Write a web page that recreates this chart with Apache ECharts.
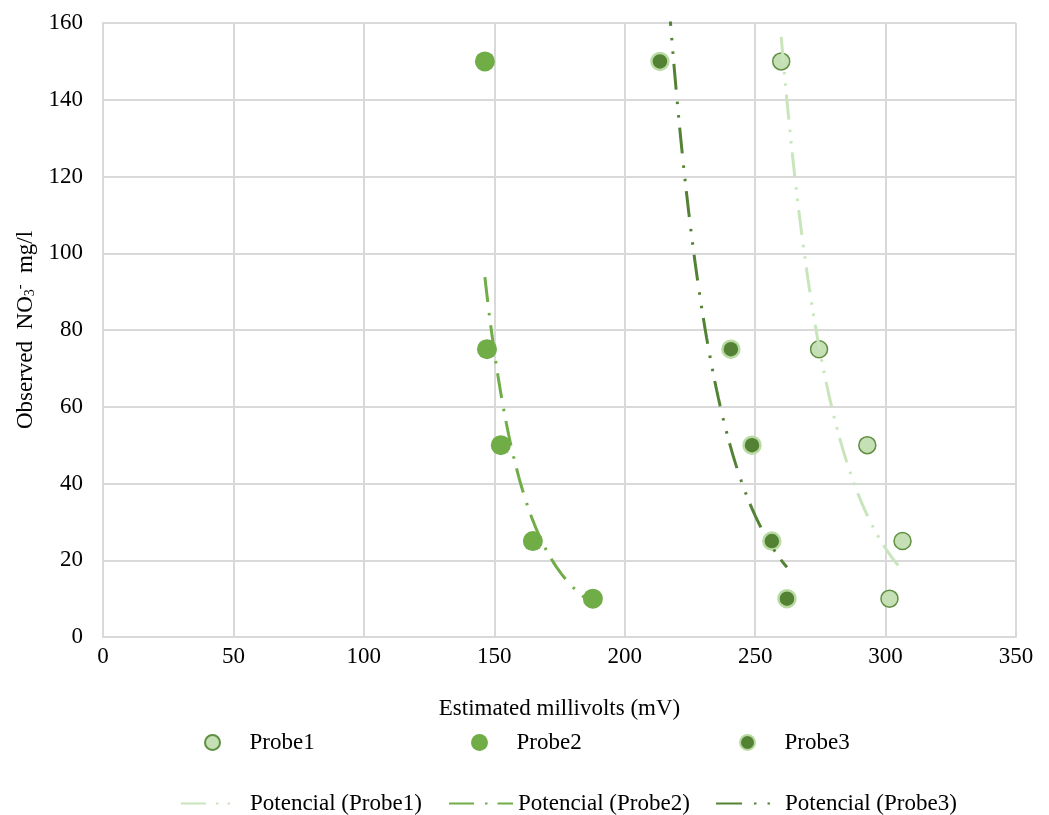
<!DOCTYPE html>
<html><head><meta charset="utf-8">
<script src="https://cdn.jsdelivr.net/npm/echarts@6/dist/echarts.min.js"></script>
<style>html,body{margin:0;padding:0;background:#fff}#c{width:1049px;height:815px}</style>
</head><body><div id="c"></div>
<script>
// Observed NO3- concentration levels (mg/l)
const observed = [150, 75, 50, 25, 10];
// Estimated millivolts per probe
const probe1mV = [260, 274.5, 293, 306.5, 301.5];
const probe2mV = [146.4, 147.2, 152.5, 164.8, 187.8];
const probe3mV = [213.5, 240.7, 248.8, 256.4, 262.2];
const seriesNames = ['Probe1', 'Probe2', 'Probe3'];
const trendNames = ['Potencial (Probe1)', 'Potencial (Probe2)', 'Potencial (Probe3)'];
const xTicks = [0, 350, 50];
const yTicks = [0, 160, 20];

const FONT = '"Liberation Serif", "Times New Roman", serif';
const FS = 23;
const fillColors = ['#c5e0b4', '#70ad47', '#548235'];
const borderColors = ['#5f8f40', '#70ad47', '#b9dba3'];
const lineColors = ['#c9e5bb', '#70ad47', '#548235'];

function pairs(xs) { return xs.map((x, i) => [x, observed[i]]); }

// Power trendline (Excel "Potencial"): least squares on ln(y) vs ln(x)
function powerTrend(xs) {
  const lx = xs.map(Math.log), ly = observed.map(Math.log);
  const n = xs.length;
  const mx = lx.reduce((a, b) => a + b) / n, my = ly.reduce((a, b) => a + b) / n;
  let sxy = 0, sxx = 0;
  for (let i = 0; i < n; i++) { sxy += (lx[i] - mx) * (ly[i] - my); sxx += (lx[i] - mx) ** 2; }
  const b = sxy / sxx, a = Math.exp(my - b * mx);
  const xmin = Math.min(...xs), xmax = Math.max(...xs);
  const pts = [];
  const N = 150;
  for (let k = 0; k <= N; k++) {
    const x = xmin + (xmax - xmin) * k / N;
    pts.push([x, a * Math.pow(x, b)]);
  }
  return pts;
}

const probeData = [probe1mV, probe2mV, probe3mV];
const dashPatterns = [[25, 10, 2.5, 9, 2.5, 9], [25, 11, 2.5, 10], [26, 12, 2.5, 11, 2.5, 10]];
const symSizes = [17, 20, 17];
const borderWidths = [1.5, 0, 2.5];

const series = [];
probeData.forEach((xs, i) => {
  series.push({
    name: seriesNames[i], type: 'scatter', data: pairs(xs),
    symbolSize: symSizes[i], z: 2,
    itemStyle: { color: fillColors[i], borderColor: borderColors[i], borderWidth: borderWidths[i], opacity: 1 }
  });
});
probeData.forEach((xs, i) => {
  series.push({
    name: trendNames[i], type: 'line', data: powerTrend(xs), showSymbol: false, symbol: 'none',
    smooth: false, z: 3, clip: true,
    lineStyle: { color: lineColors[i], width: 3, type: dashPatterns[i] },
    itemStyle: { color: lineColors[i] }
  });
});

const legTxt = { fontFamily: FONT, fontSize: FS, color: '#000' };
const hiddenSym = { color: 'rgba(0,0,0,0)', borderColor: 'rgba(0,0,0,0)', borderWidth: 0 };
const legends = [
  { data: [seriesNames[0]], left: 204, top: 731, itemWidth: 64, itemHeight: 15, textStyle: legTxt },
  { data: [seriesNames[1]], left: 471, top: 731, itemWidth: 64, itemHeight: 17, textStyle: legTxt },
  { data: [seriesNames[2]], left: 739, top: 731, itemWidth: 64, itemHeight: 15, textStyle: legTxt },
  { data: [trendNames[0]], left: 180, top: 792, itemWidth: 54, itemHeight: 14, itemStyle: hiddenSym, textStyle: Object.assign({ padding: [0, 0, 0, 10] }, legTxt) },
  { data: [trendNames[1]], left: 448, top: 792, itemWidth: 64, itemHeight: 14, itemStyle: hiddenSym, textStyle: legTxt },
  { data: [trendNames[2]], left: 715, top: 792, itemWidth: 64, itemHeight: 14, itemStyle: hiddenSym, textStyle: legTxt }
].map(l => Object.assign({ selectedMode: false, orient: 'horizontal', padding: 0 }, l));

const gridLine = { show: true, lineStyle: { color: '#d9d9d9', width: 2 } };

const chart = echarts.init(document.getElementById('c'), null, { renderer: 'canvas' });
chart.setOption({
  backgroundColor: '#fff',
  animation: false,
  grid: { left: 103, right: 33, top: 23, bottom: 178, containLabel: false },
  legend: legends,
  xAxis: {
    type: 'value', min: xTicks[0], max: xTicks[1], interval: xTicks[2],
    name: 'Estimated millivolts (mV)', nameLocation: 'middle', nameGap: 60,
    nameTextStyle: { fontFamily: FONT, fontSize: FS, color: '#000' },
    axisLine: { show: true, lineStyle: { color: '#d9d9d9', width: 2 } },
    axisTick: { show: false },
    axisLabel: { fontFamily: FONT, fontSize: FS, color: '#000', margin: 8 },
    splitLine: gridLine
  },
  yAxis: {
    type: 'value', min: yTicks[0], max: yTicks[1], interval: yTicks[2],
    name: '{t|Observed  NO}{sub|3}{sup|-}{t|  mg/l}', nameLocation: 'middle', nameGap: 52, nameRotate: 90,
    nameTextStyle: {
      fontFamily: FONT, fontSize: FS, color: '#000',
      rich: {
        t: { fontFamily: FONT, fontSize: FS, color: '#000' },
        sub: { fontFamily: FONT, fontSize: 14, color: '#000', padding: [10, 0, 0, 0] },
        sup: { fontFamily: FONT, fontSize: 14, color: '#000', padding: [0, 0, 10, 0] }
      }
    },
    axisLine: { show: true, lineStyle: { color: '#d9d9d9', width: 2 } },
    axisTick: { show: false },
    axisLabel: { fontFamily: FONT, fontSize: FS, color: '#000', margin: 20 },
    splitLine: gridLine
  },
  series: series
});
</script>
</body></html>
